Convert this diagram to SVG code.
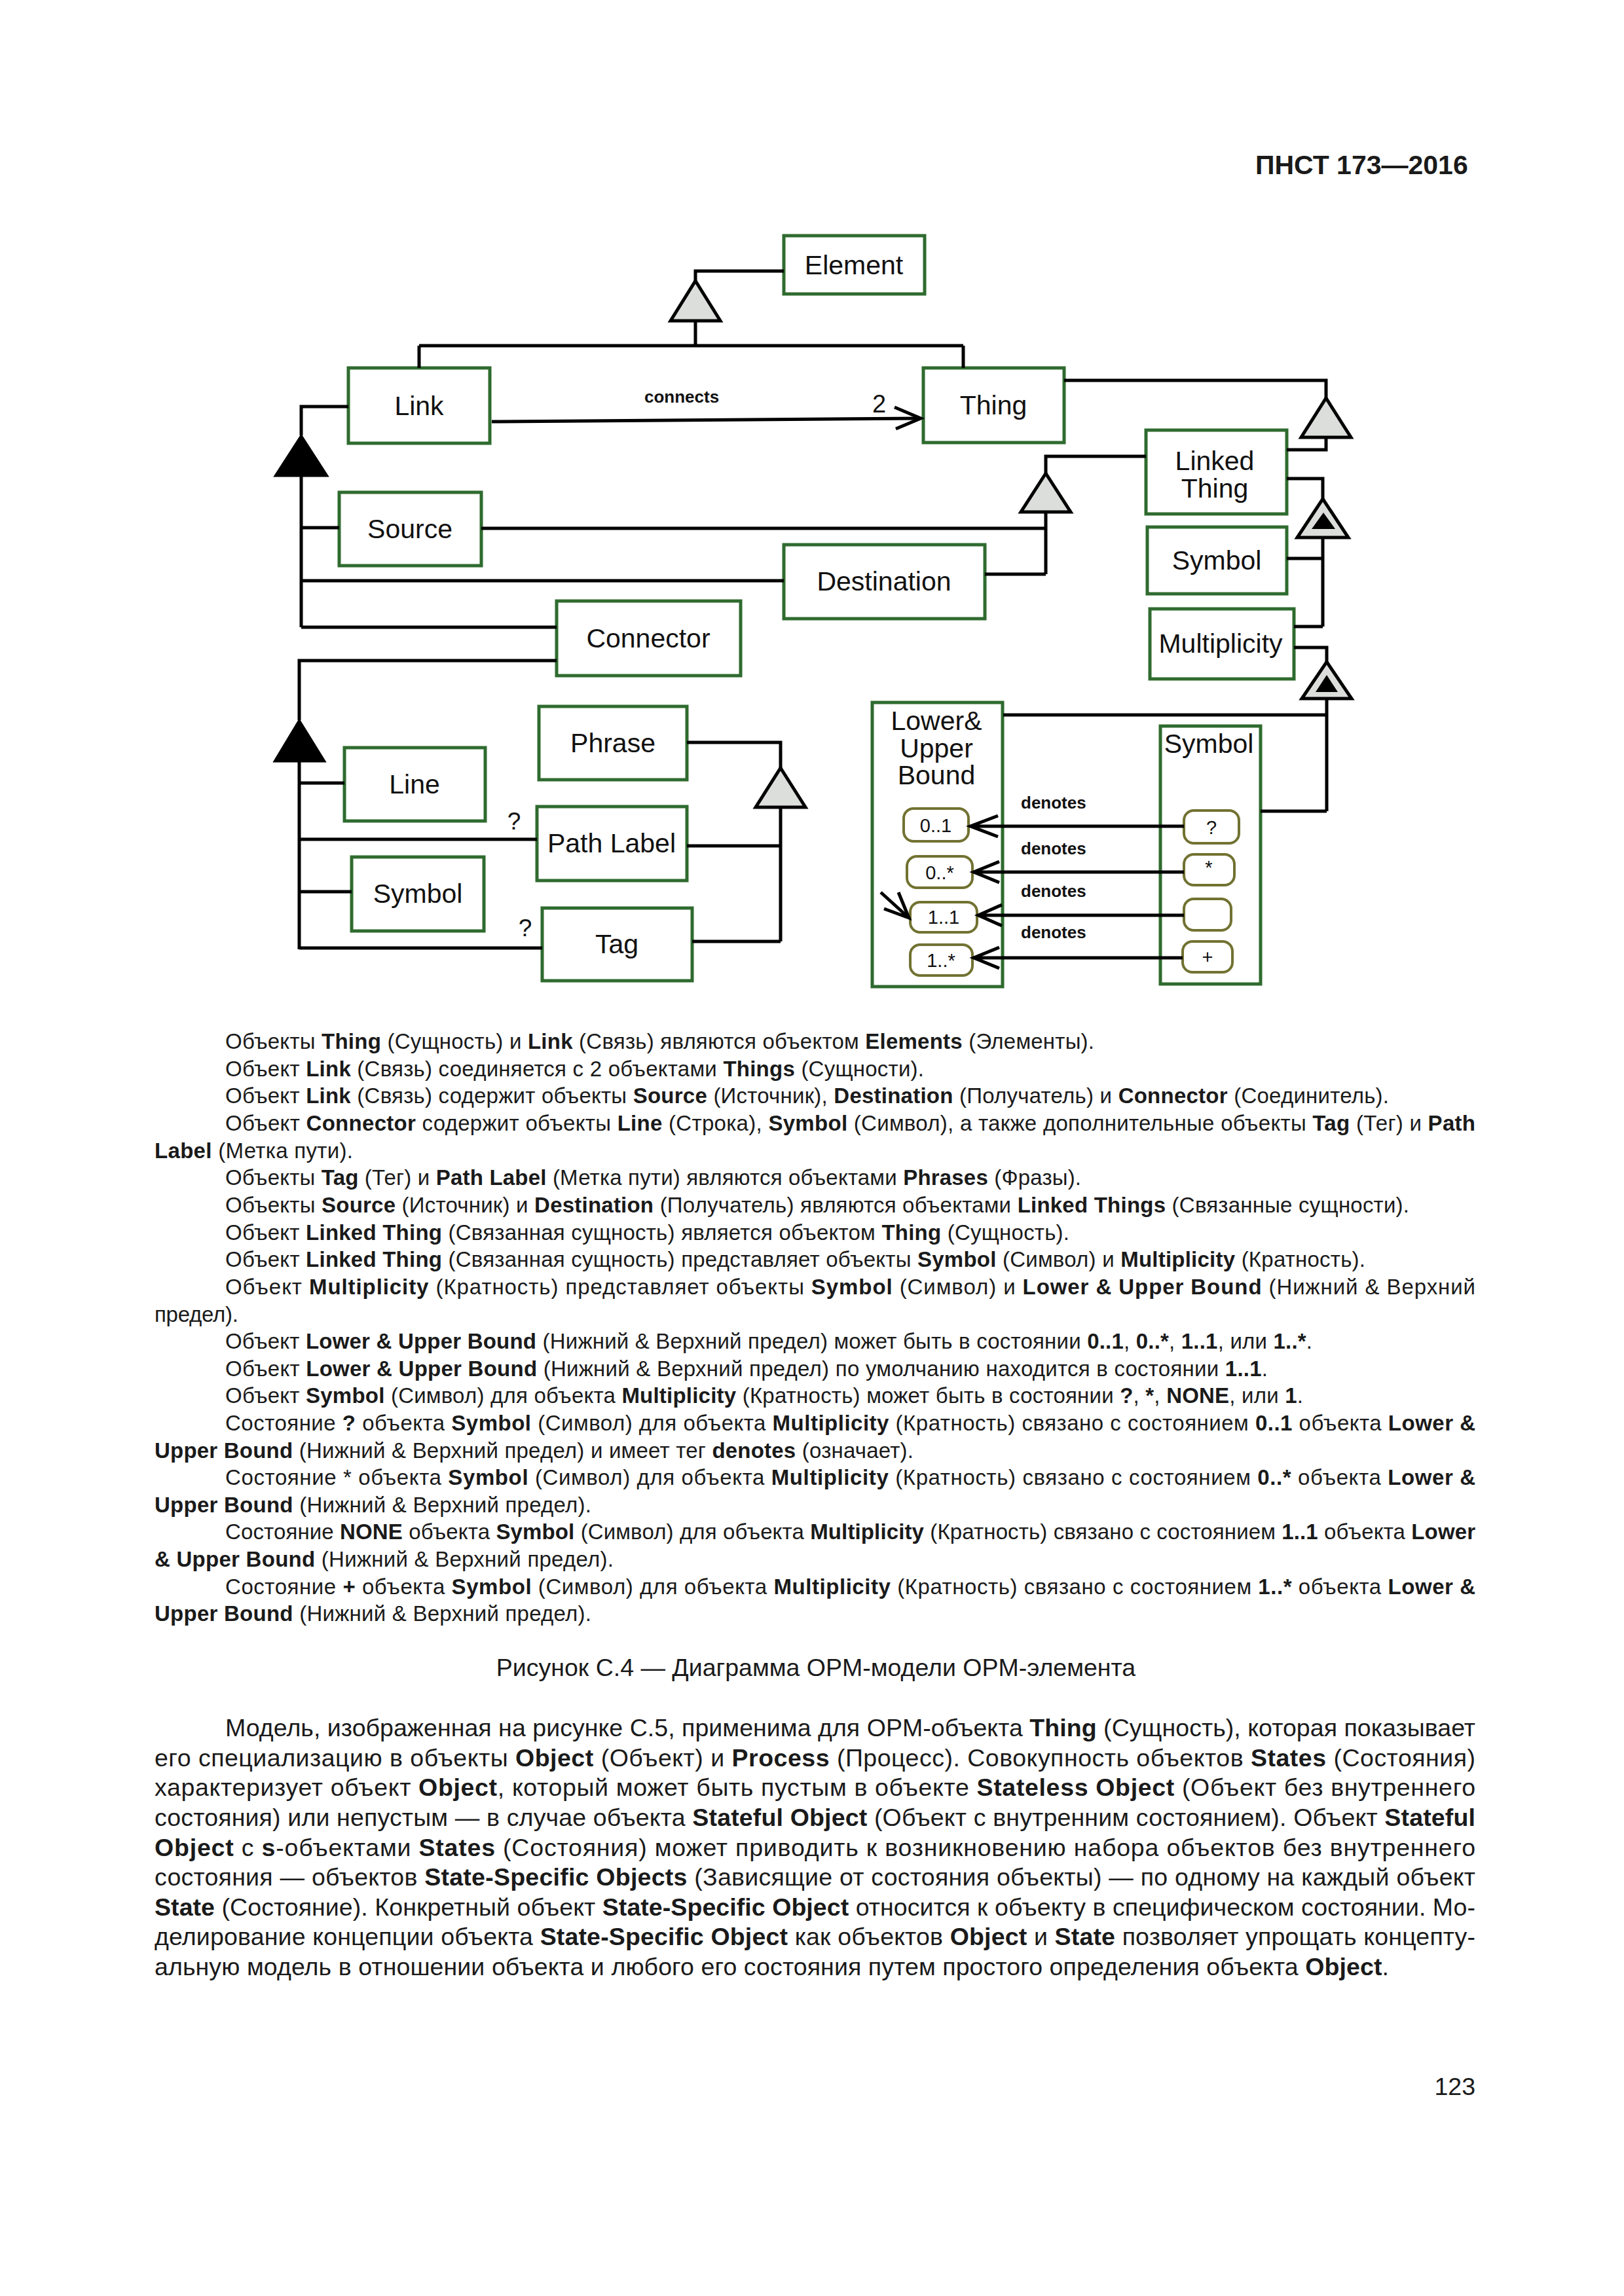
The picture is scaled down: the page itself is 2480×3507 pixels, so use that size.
<svg xmlns="http://www.w3.org/2000/svg" width="2480" height="3507" viewBox="0 0 2480 3507">
<style>
.bg{fill:#ffffff}
.node{fill:#ffffff;stroke:#2f6b2f;stroke-width:5}
.st{fill:#ffffff;stroke:#727232;stroke-width:4}
.c{fill:none;stroke:#000000;stroke-width:5}
.gen{fill:#dcdedc;stroke:#000000;stroke-width:5;stroke-linejoin:miter}
.agg{fill:#000000;stroke:#000000;stroke-width:3}
.inner{fill:#000000;stroke:none}
.nl{font-family:"Liberation Sans",Arial,sans-serif;font-size:41px;fill:#111111;text-anchor:middle}
.sl{font-family:"Liberation Sans",Arial,sans-serif;font-size:29px;fill:#111111;text-anchor:middle}
.lbl{font-family:"Liberation Sans",Arial,sans-serif;font-size:26px;font-weight:bold;fill:#111111}
.q{font-family:"Liberation Sans",Arial,sans-serif;font-size:37px;fill:#111111;text-anchor:middle}
.t{font-family:"Liberation Sans",Arial,sans-serif;font-size:33px;fill:#1a1a1a}
.p{font-family:"Liberation Sans",Arial,sans-serif;font-size:37.5px;fill:#1a1a1a}
.b{font-weight:bold}
</style>
<rect class="bg" x="0" y="0" width="2480" height="3507"/>
<text x="1917" y="266" font-family="Liberation Sans, Arial, sans-serif" font-size="41" font-weight="bold" fill="#1a1a1a">ПНСТ 173—2016</text>

<g id="n-element"><rect class="node" x="1197" y="360" width="215" height="89"/><text class="nl" x="1304" y="419">Element</text></g>
<g id="n-link"><rect class="node" x="532" y="562" width="216" height="115"/><text class="nl" x="640" y="634">Link</text></g>
<g id="n-thing"><rect class="node" x="1410" y="562" width="215" height="114"/><text class="nl" x="1517" y="633">Thing</text></g>
<g id="n-source"><rect class="node" x="518" y="752" width="217" height="112"/><text class="nl" x="626" y="822">Source</text></g>
<g id="n-destination"><rect class="node" x="1197" y="832" width="307" height="113"/><text class="nl" x="1350" y="902">Destination</text></g>
<g id="n-connector"><rect class="node" x="850" y="918" width="281" height="114"/><text class="nl" x="990" y="989">Connector</text></g>
<g id="n-linked-thing"><rect class="node" x="1750" y="657" width="215" height="128"/><text class="nl" x="1855" y="718">Linked</text><text class="nl" x="1855" y="760">Thing</text></g>
<g id="n-symbol-lt"><rect class="node" x="1752" y="805" width="213" height="102"/><text class="nl" x="1858" y="870">Symbol</text></g>
<g id="n-multiplicity"><rect class="node" x="1756" y="930" width="220" height="107"/><text class="nl" x="1864" y="997">Multiplicity</text></g>
<g id="n-phrase"><rect class="node" x="823" y="1079" width="226" height="112"/><text class="nl" x="936" y="1149">Phrase</text></g>
<g id="n-line"><rect class="node" x="526" y="1142" width="215" height="112"/><text class="nl" x="633" y="1212">Line</text></g>
<g id="n-path-label"><rect class="node" x="820" y="1232" width="229" height="113"/><text class="nl" x="934" y="1302">Path Label</text></g>
<g id="n-symbol-c"><rect class="node" x="537" y="1309" width="202" height="113"/><text class="nl" x="638" y="1379">Symbol</text></g>
<g id="n-tag"><rect class="node" x="828" y="1387" width="229" height="111"/><text class="nl" x="942" y="1456">Tag</text></g>
<g id="n-lub">
  <rect class="node" x="1332" y="1073" width="199" height="434"/>
  <text class="nl" x="1430" y="1115">Lower&amp;</text>
  <text class="nl" x="1430" y="1157">Upper</text>
  <text class="nl" x="1430" y="1198">Bound</text>
  <g id="s-01"><rect class="st" x="1380" y="1235" width="99" height="50" rx="15"/><text class="sl" x="1429" y="1271">0..1</text></g>
  <g id="s-0s"><rect class="st" x="1385" y="1308" width="100" height="48" rx="15"/><text class="sl" x="1435" y="1343">0..*</text></g>
  <g id="s-11"><rect class="st" x="1390" y="1378" width="102" height="46" rx="15"/><text class="sl" x="1441" y="1411">1..1</text></g>
  <g id="s-1s"><rect class="st" x="1390" y="1443" width="95" height="47" rx="15"/><text class="sl" x="1437" y="1477">1..*</text></g>
</g>
<g id="n-symbol-m">
  <rect class="node" x="1772" y="1109" width="153" height="394"/>
  <text class="nl" x="1846" y="1150">Symbol</text>
  <g id="s-q"><rect class="st" x="1808" y="1238" width="84" height="50" rx="15"/><text class="sl" x="1850" y="1274">?</text></g>
  <g id="s-star"><rect class="st" x="1808" y="1305" width="77" height="47" rx="15"/><text class="sl" x="1846" y="1335">*</text></g>
  <g id="s-none"><rect class="st" x="1808" y="1373" width="72" height="48" rx="15"/></g>
  <g id="s-plus"><rect class="st" x="1806" y="1438" width="76" height="47" rx="15"/><text class="sl" x="1844" y="1472">+</text></g>
</g>

<g id="connectors">
  <!-- Element generalization -->
  <path class="c" d="M1197,414 H1062 V429"/>
  <path class="c" d="M1062,490 V528 M640,528 H1471 M640,528 V562 M1471,528 V562"/>
  <polygon class="gen" points="1062,429 1100,490 1024,490"/>
  <!-- connects -->
  <path class="c" d="M751,644 L1405,639"/>
  <path class="c" d="M1366,622 L1406,639 L1368,655"/>
  <!-- Link aggregation -->
  <path class="c" d="M532,621 H460 V665"/>
  <path class="c" d="M460,727 V958 M460,806 H518 M460,887 H1197 M460,958 H850"/>
  <polygon class="agg" points="460,665 500,727 420,727"/>
  <!-- Linked Thing generalization of Source/Destination -->
  <path class="c" d="M1750,697 H1597 V723"/>
  <path class="c" d="M1597,782 V877 M735,807 H1597 M1504,877 H1597"/>
  <polygon class="gen" points="1597,723 1635,782 1559,782"/>
  <!-- Thing generalization of Linked Thing -->
  <path class="c" d="M1625,581 H2025 V608"/>
  <path class="c" d="M2025,668 V687 H1965"/>
  <polygon class="gen" points="2025,608 2063,668 1987,668"/>
  <!-- Linked Thing characterization -->
  <path class="c" d="M1965,731 H2020 V762"/>
  <path class="c" d="M2020,821 V957 M1965,853 H2020 M1976,957 H2020"/>
  <polygon class="gen" points="2020,762 2059,821 1981,821"/>
  <polygon class="inner" points="2021,783 2039,808 2003,808"/>
  <!-- Multiplicity characterization -->
  <path class="c" d="M1976,989 H2026 V1011"/>
  <path class="c" d="M2026,1067 V1239 M1532,1092 H2026 M1925,1239 H2026"/>
  <polygon class="gen" points="2026,1011 2064,1067 1988,1067"/>
  <polygon class="inner" points="2026,1031 2043,1057 2009,1057"/>
  <!-- Connector aggregation -->
  <path class="c" d="M850,1009 H457 V1100"/>
  <path class="c" d="M457,1163 V1450 M457,1196 H526 M457,1282 H820 M457,1362 H537 M457,1448 H828"/>
  <polygon class="agg" points="457,1100 496,1163 419,1163"/>
  <!-- Phrase generalization -->
  <path class="c" d="M1049,1134 H1192 V1173"/>
  <path class="c" d="M1192,1233 V1438 M1049,1292 H1192 M1057,1438 H1192"/>
  <polygon class="gen" points="1192,1173 1230,1233 1154,1233"/>
  <!-- denotes links -->
  <path class="c" d="M1808,1262 H1482 M1524,1246 L1482,1262 L1524,1278"/>
  <path class="c" d="M1808,1332 H1487 M1526,1316 L1487,1332 L1526,1348"/>
  <path class="c" d="M1808,1398 H1494 M1530,1382 L1494,1398 L1530,1414"/>
  <path class="c" d="M1806,1463 H1487 M1526,1447 L1487,1463 L1526,1479"/>
  <!-- default state arrow -->
  <path class="c" d="M1345,1363 L1388,1402 M1372,1363 L1388,1402 L1350,1388"/>
  <!-- labels -->
  <text class="lbl" x="984" y="615">connects</text>
  <text x="1332" y="630" font-family="Liberation Sans, Arial, sans-serif" font-size="38" fill="#111111">2</text>
  <text class="q" x="785" y="1267">?</text>
  <text class="q" x="802" y="1430">?</text>
  <text class="lbl" x="1559" y="1235">denotes</text>
  <text class="lbl" x="1559" y="1305">denotes</text>
  <text class="lbl" x="1559" y="1370">denotes</text>
  <text class="lbl" x="1559" y="1433">denotes</text>
</g>

<g id="caption-text">
<text class="t" x="344" y="1602" textLength="1327" lengthAdjust="spacing">Объекты <tspan class="b">Thing</tspan> (Сущность) и <tspan class="b">Link</tspan> (Связь) являются объектом <tspan class="b">Elements</tspan> (Элементы).</text>
<text class="t" x="344" y="1644" textLength="1067" lengthAdjust="spacing">Объект <tspan class="b">Link</tspan> (Связь) соединяется с 2 объектами <tspan class="b">Things</tspan> (Сущности).</text>
<text class="t" x="344" y="1685" textLength="1777" lengthAdjust="spacing">Объект <tspan class="b">Link</tspan> (Связь) содержит объекты <tspan class="b">Source</tspan> (Источник), <tspan class="b">Destination</tspan> (Получатель) и <tspan class="b">Connector</tspan> (Соединитель).</text>
<text class="t" x="344" y="1727" textLength="1909" lengthAdjust="spacing">Объект <tspan class="b">Connector</tspan> содержит объекты <tspan class="b">Line</tspan> (Строка), <tspan class="b">Symbol</tspan> (Символ), а также дополнительные объекты <tspan class="b">Tag</tspan> (Тег) и <tspan class="b">Path</tspan></text>
<text class="t" x="236" y="1769" textLength="303" lengthAdjust="spacing"><tspan class="b">Label</tspan> (Метка пути).</text>
<text class="t" x="344" y="1810" textLength="1307" lengthAdjust="spacing">Объекты <tspan class="b">Tag</tspan> (Тег) и <tspan class="b">Path Label</tspan> (Метка пути) являются объектами <tspan class="b">Phrases</tspan> (Фразы).</text>
<text class="t" x="344" y="1852" textLength="1808" lengthAdjust="spacing">Объекты <tspan class="b">Source</tspan> (Источник) и <tspan class="b">Destination</tspan> (Получатель) являются объектами <tspan class="b">Linked Things</tspan> (Связанные сущности).</text>
<text class="t" x="344" y="1894" textLength="1289" lengthAdjust="spacing">Объект <tspan class="b">Linked Thing</tspan> (Связанная сущность) является объектом <tspan class="b">Thing</tspan> (Сущность).</text>
<text class="t" x="344" y="1935" textLength="1741" lengthAdjust="spacing">Объект <tspan class="b">Linked Thing</tspan> (Связанная сущность) представляет объекты <tspan class="b">Symbol</tspan> (Символ) и <tspan class="b">Multiplicity</tspan> (Кратность).</text>
<text class="t" x="344" y="1977" textLength="1909" lengthAdjust="spacing">Объект <tspan class="b">Multiplicity</tspan> (Кратность) представляет объекты <tspan class="b">Symbol</tspan> (Символ) и <tspan class="b">Lower &amp; Upper Bound</tspan> (Нижний &amp; Верхний</text>
<text class="t" x="236" y="2019" textLength="128" lengthAdjust="spacing">предел).</text>
<text class="t" x="344" y="2060" textLength="1660" lengthAdjust="spacing">Объект <tspan class="b">Lower &amp; Upper Bound</tspan> (Нижний &amp; Верхний предел) может быть в состоянии <tspan class="b">0..1</tspan>, <tspan class="b">0..*</tspan>, <tspan class="b">1..1</tspan>, или <tspan class="b">1..*</tspan>.</text>
<text class="t" x="344" y="2102" textLength="1592" lengthAdjust="spacing">Объект <tspan class="b">Lower &amp; Upper Bound</tspan> (Нижний &amp; Верхний предел) по умолчанию находится в состоянии <tspan class="b">1..1</tspan>.</text>
<text class="t" x="344" y="2143" textLength="1646" lengthAdjust="spacing">Объект <tspan class="b">Symbol</tspan> (Символ) для объекта <tspan class="b">Multiplicity</tspan> (Кратность) может быть в состоянии <tspan class="b">?</tspan>, <tspan class="b">*</tspan>, <tspan class="b">NONE</tspan>, или <tspan class="b">1</tspan>.</text>
<text class="t" x="344" y="2185" textLength="1909" lengthAdjust="spacing">Состояние <tspan class="b">?</tspan> объекта <tspan class="b">Symbol</tspan> (Символ) для объекта <tspan class="b">Multiplicity</tspan> (Кратность) связано с состоянием <tspan class="b">0..1</tspan> объекта <tspan class="b">Lower &amp;</tspan></text>
<text class="t" x="236" y="2227" textLength="1159" lengthAdjust="spacing"><tspan class="b">Upper Bound</tspan> (Нижний &amp; Верхний предел) и имеет тег <tspan class="b">denotes</tspan> (означает).</text>
<text class="t" x="344" y="2268" textLength="1909" lengthAdjust="spacing">Состояние * объекта <tspan class="b">Symbol</tspan> (Символ) для объекта <tspan class="b">Multiplicity</tspan> (Кратность) связано с состоянием <tspan class="b">0..*</tspan> объекта <tspan class="b">Lower &amp;</tspan></text>
<text class="t" x="236" y="2310" textLength="667" lengthAdjust="spacing"><tspan class="b">Upper Bound</tspan> (Нижний &amp; Верхний предел).</text>
<text class="t" x="344" y="2351" textLength="1909" lengthAdjust="spacing">Состояние <tspan class="b">NONE</tspan> объекта <tspan class="b">Symbol</tspan> (Символ) для объекта <tspan class="b">Multiplicity</tspan> (Кратность) связано с состоянием <tspan class="b">1..1</tspan> объекта <tspan class="b">Lower</tspan></text>
<text class="t" x="236" y="2393" textLength="701" lengthAdjust="spacing"><tspan class="b">&amp; Upper Bound</tspan> (Нижний &amp; Верхний предел).</text>
<text class="t" x="344" y="2435" textLength="1909" lengthAdjust="spacing">Состояние <tspan class="b">+</tspan> объекта <tspan class="b">Symbol</tspan> (Символ) для объекта <tspan class="b">Multiplicity</tspan> (Кратность) связано с состоянием <tspan class="b">1..*</tspan> объекта <tspan class="b">Lower &amp;</tspan></text>
<text class="t" x="236" y="2476" textLength="667" lengthAdjust="spacing"><tspan class="b">Upper Bound</tspan> (Нижний &amp; Верхний предел).</text>
</g>

<text class="p" x="1246" y="2560" text-anchor="middle">Рисунок С.4 — Диаграмма OPM-модели OPM-элемента</text>

<g id="paragraph">
<text class="p" x="344" y="2652" textLength="1909" lengthAdjust="spacing">Модель, изображенная на рисунке С.5, применима для OPM-объекта <tspan class="b">Thing</tspan> (Сущность), которая показывает</text>
<text class="p" x="236" y="2698" textLength="2017" lengthAdjust="spacing">его специализацию в объекты <tspan class="b">Object</tspan> (Объект) и <tspan class="b">Process</tspan> (Процесс). Совокупность объектов <tspan class="b">States</tspan> (Состояния)</text>
<text class="p" x="236" y="2743" textLength="2017" lengthAdjust="spacing">характеризует объект <tspan class="b">Object</tspan>, который может быть пустым в объекте <tspan class="b">Stateless Object</tspan> (Объект без внутреннего</text>
<text class="p" x="236" y="2789" textLength="2017" lengthAdjust="spacing">состояния) или непустым — в случае объекта <tspan class="b">Stateful Object</tspan> (Объект с внутренним состоянием). Объект <tspan class="b">Stateful</tspan></text>
<text class="p" x="236" y="2835" textLength="2017" lengthAdjust="spacing"><tspan class="b">Object</tspan> с <tspan class="b">s</tspan>-объектами <tspan class="b">States</tspan> (Состояния) может приводить к возникновению набора объектов без внутреннего</text>
<text class="p" x="236" y="2880" textLength="2017" lengthAdjust="spacing">состояния — объектов <tspan class="b">State-Specific Objects</tspan> (Зависящие от состояния объекты) — по одному на каждый объект</text>
<text class="p" x="236" y="2926" textLength="2017" lengthAdjust="spacing"><tspan class="b">State</tspan> (Состояние). Конкретный объект <tspan class="b">State-Specific Object</tspan> относится к объекту в специфическом состоянии. Мо-</text>
<text class="p" x="236" y="2971" textLength="2017" lengthAdjust="spacing">делирование концепции объекта <tspan class="b">State-Specific Object</tspan> как объектов <tspan class="b">Object</tspan> и <tspan class="b">State</tspan> позволяет упрощать концепту-</text>
<text class="p" x="236" y="3017" textLength="1885" lengthAdjust="spacing">альную модель в отношении объекта и любого его состояния путем простого определения объекта <tspan class="b">Object</tspan>.</text>
</g>

<text class="p" x="2253" y="3200" text-anchor="end">123</text>
</svg>
